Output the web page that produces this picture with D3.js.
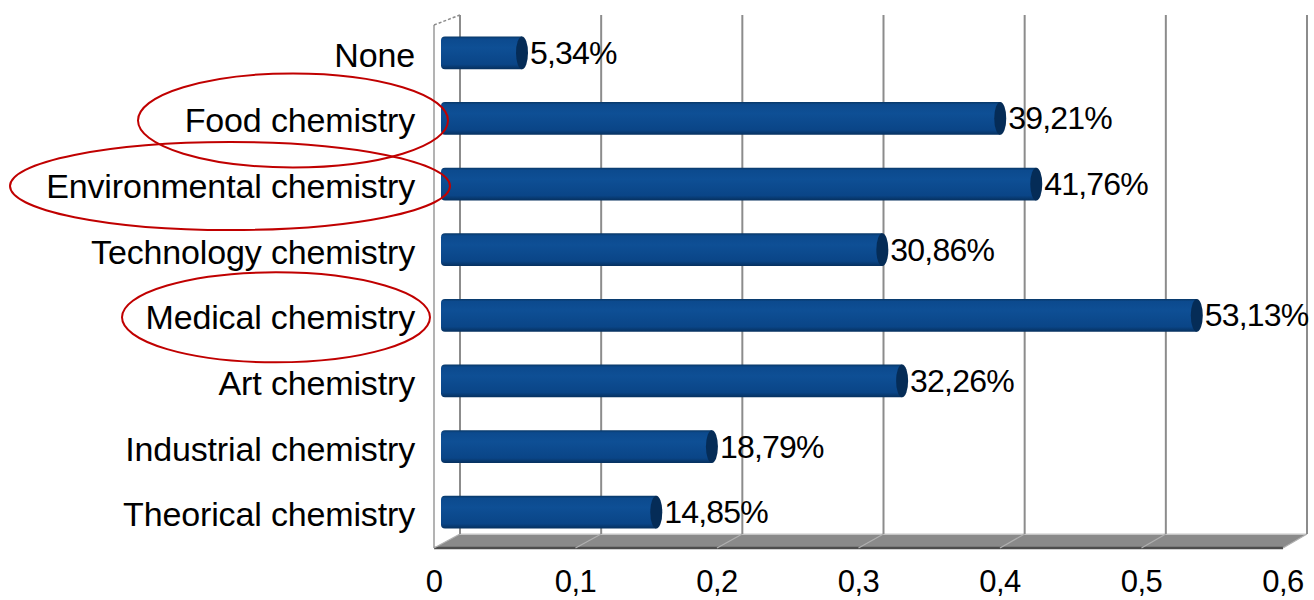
<!DOCTYPE html>
<html>
<head>
<meta charset="utf-8">
<script src="https://cdn.jsdelivr.net/npm/d3@7/dist/d3.min.js"></script>
<style>
  html, body { margin: 0; padding: 0; background: #fff; }
  svg { display: block; }
  text { font-family: "Liberation Sans", Arial, sans-serif; fill: #000; }
</style>
</head>
<body>
<svg id="chart" width="1314" height="600"></svg>
<script>
const categories = ["None", "Food chemistry", "Environmental chemistry", "Technology chemistry",
                    "Medical chemistry", "Art chemistry", "Industrial chemistry", "Theorical chemistry"];
const values = [0.0534, 0.3921, 0.4176, 0.3086, 0.5313, 0.3226, 0.1879, 0.1485];
const valueLabels = ["5,34%", "39,21%", "41,76%", "30,86%", "53,13%", "32,26%", "18,79%", "14,85%"];
const tickValues = [0, 0.1, 0.2, 0.3, 0.4, 0.5, 0.6];
const tickLabels = ["0", "0,1", "0,2", "0,3", "0,4", "0,5", "0,6"];
const highlighted = ["Food chemistry", "Environmental chemistry", "Medical chemistry"];

const svg = d3.select("#chart");

// 3D geometry: back wall / front plane / bar plane
const backX = d3.scaleLinear().domain([0, 0.6]).range([460, 1307]);
const frontX = d3.scaleLinear().domain([0, 0.6]).range([434, 1283]);
const barX = d3.scaleLinear().domain([0, 0.6]).range([452.6, 1299.8]);
const barBase = 441;
const y = d3.scaleBand().domain(categories).range([20, 545]).paddingInner(0.5).paddingOuter(0.25);

const backTop = 15, backBottom = 534, frontTop = 25, frontBottom = 548;

const defs = svg.append("defs");
const grad = defs.append("linearGradient").attr("id", "barGrad").attr("x1", 0).attr("y1", 0).attr("x2", 0).attr("y2", 1);
grad.append("stop").attr("offset", "0%").attr("stop-color", "#083766");
grad.append("stop").attr("offset", "8%").attr("stop-color", "#0c4a8e");
grad.append("stop").attr("offset", "35%").attr("stop-color", "#0e4f95");
grad.append("stop").attr("offset", "85%").attr("stop-color", "#0a4587");
grad.append("stop").attr("offset", "100%").attr("stop-color", "#06305e");

// Floor
svg.append("path")
  .attr("d", `M${backX(0)},${backBottom} L${backX(0.6)},${backBottom} L${frontX(0.6)},${frontBottom} L${frontX(0)},${frontBottom} Z`)
  .attr("fill", "#8a8a8a");
svg.append("line")
  .attr("x1", backX(0)).attr("x2", backX(0.6)).attr("y1", backBottom).attr("y2", backBottom)
  .attr("stroke", "#d9d9d9").attr("stroke-width", 1.5);
svg.append("line")
  .attr("x1", frontX(0)).attr("x2", frontX(0.6)).attr("y1", frontBottom).attr("y2", frontBottom)
  .attr("stroke", "#4d4d4d").attr("stroke-width", 2.5);
svg.append("g").selectAll("line").data(tickValues).join("line")
  .attr("x1", d => frontX(d)).attr("y1", frontBottom)
  .attr("x2", d => backX(d)).attr("y2", backBottom)
  .attr("stroke", "#b0b0b0").attr("stroke-width", 1.2);

// Left wall
svg.append("line").attr("x1", frontX(0)).attr("x2", frontX(0)).attr("y1", frontTop).attr("y2", frontBottom)
  .attr("stroke", "#9a9a9a").attr("stroke-width", 1.5);
svg.append("line").attr("x1", frontX(0)).attr("x2", backX(0)).attr("y1", frontTop).attr("y2", backTop)
  .attr("stroke", "#8a8a8a").attr("stroke-width", 1.5).attr("stroke-dasharray", "3,2");

// Back wall gridlines
svg.append("g").selectAll("line").data(tickValues).join("line")
  .attr("x1", d => backX(d)).attr("x2", d => backX(d))
  .attr("y1", backTop).attr("y2", backBottom)
  .attr("stroke", "#8c8c8c").attr("stroke-width", 2);

// Bars (cylinders)
const capRx = 6;
const bars = svg.append("g").selectAll("g").data(categories).join("g");
bars.append("path")
  .attr("d", (c, i) => {
    const x0 = barBase, x1 = barX(values[i]) - capRx, t = y(c), h = y.bandwidth(), r = 4;
    return `M${x0 + r},${t} L${x1},${t} L${x1},${t + h} L${x0 + r},${t + h} Q${x0},${t + h} ${x0},${t + h - r} L${x0},${t + r} Q${x0},${t} ${x0 + r},${t} Z`;
  })
  .attr("fill", "url(#barGrad)");
bars.append("ellipse")
  .attr("cx", (c, i) => barX(values[i]) - capRx)
  .attr("cy", c => y(c) + y.bandwidth() / 2)
  .attr("rx", capRx).attr("ry", y.bandwidth() / 2)
  .attr("fill", "#052c57");

// Value labels
svg.append("g").selectAll("text").data(categories).join("text")
  .attr("x", (c, i) => barX(values[i]) + 2)
  .attr("y", c => y(c) + y.bandwidth() / 2 + 11)
  .attr("font-size", 32)
  .attr("letter-spacing", -0.8)
  .text((c, i) => valueLabels[i]);

// Category labels
svg.append("g").selectAll("text").data(categories).join("text")
  .attr("x", 415)
  .attr("y", c => y(c) + y.bandwidth() / 2 + 14)
  .attr("text-anchor", "end")
  .attr("font-size", 34)
  .attr("letter-spacing", -0.15)
  .text(c => c);

// X tick labels
svg.append("g").selectAll("text").data(tickValues).join("text")
  .attr("x", d => frontX(d))
  .attr("y", 592)
  .attr("text-anchor", "middle")
  .attr("font-size", 31)
  .attr("letter-spacing", -0.5)
  .text((d, i) => tickLabels[i]);

// Highlight ellipses
const ellipseSpecs = [
  { cat: "Food chemistry", cx: 293, rx: 155, ry: 47 },
  { cat: "Environmental chemistry", cx: 230, rx: 220, ry: 44 },
  { cat: "Medical chemistry", cx: 276, rx: 154, ry: 45 }
];
svg.append("g").selectAll("ellipse").data(ellipseSpecs.filter(e => highlighted.includes(e.cat))).join("ellipse")
  .attr("cx", e => e.cx)
  .attr("cy", e => y(e.cat) + y.bandwidth() / 2 + 2)
  .attr("rx", e => e.rx).attr("ry", e => e.ry)
  .attr("fill", "none").attr("stroke", "#c00000").attr("stroke-width", 2);
</script>
</body>
</html>
